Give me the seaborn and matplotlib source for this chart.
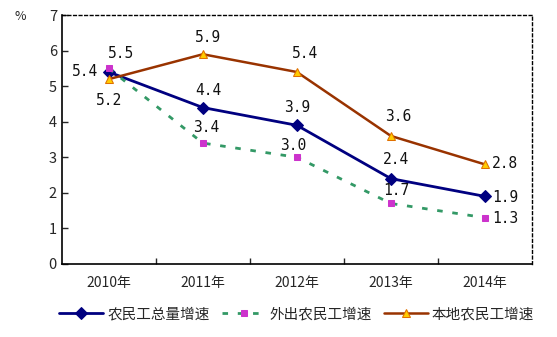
import matplotlib
matplotlib.use("Agg")
import matplotlib.pyplot as plt
import seaborn as sns
import pandas as pd
from matplotlib.ticker import FixedLocator

years = ["2010年", "2011年", "2012年", "2013年", "2014年"]
total = [5.4, 4.4, 3.9, 2.4, 1.9]
outflow = [5.5, 3.4, 3.0, 1.7, 1.3]
local = [5.2, 5.9, 5.4, 3.6, 2.8]
series_names = ["农民工总量增速", "外出农民工增速", "本地农民工增速"]

sns.set_style("white")
plt.rcParams['font.family'] = ['Noto Sans CJK SC', 'DejaVu Sans']

fig = plt.figure(figsize=(5.57, 3.37), dpi=100)
ax = fig.add_axes([0.111, 0.217, 0.844, 0.738])

df = pd.DataFrame({"year": years * 3,
                   "value": total + outflow + local,
                   "series": [series_names[0]] * 5 + [series_names[1]] * 5 + [series_names[2]] * 5})

styles = {
    series_names[0]: dict(color="#000080", marker="D", ms=6, mfc="#000080", mec="#000080", ls="-", lw=2.0),
    series_names[1]: dict(color="#339966", marker="s", ms=4.5, mfc="#CC33CC", mec="#CC33CC", ls=(0, (2, 3.5)), lw=2.0),
    series_names[2]: dict(color="#993300", marker="^", ms=5.5, mfc="#FFCC00", mec="#E07000", ls="-", lw=1.8),
}
for name in series_names:
    st = styles[name]
    sub = df[df.series == name]
    sns.lineplot(data=sub, x="year", y="value", ax=ax, label=name, sort=False,
                 color=st["color"], marker=st["marker"], markersize=st["ms"],
                 markerfacecolor=st["mfc"], markeredgecolor=st["mec"],
                 linestyle=st["ls"], linewidth=st["lw"])

ax.set_xlim(-0.5, 4.5)
ax.set_ylim(0, 7)
ax.set_yticks(range(0, 8))
ax.set_xlabel("")
ax.set_ylabel("")
ax.set_xticks(range(5))
ax.set_xticklabels(years, fontsize=10)
ax.tick_params(axis="x", which="major", length=0, pad=9)
ax.xaxis.set_minor_locator(FixedLocator([0.5, 1.5, 2.5, 3.5]))
ax.tick_params(axis="x", which="minor", length=4, direction="in", width=1, bottom=True)
ax.tick_params(axis="y", length=4, direction="in", width=1, left=True, labelsize=10.5)

for side in ["top", "right"]:
    ax.spines[side].set_linestyle((0, (2, 2)))
    ax.spines[side].set_linewidth(1.0)
    ax.spines[side].set_color("black")
for side in ["left", "bottom"]:
    ax.spines[side].set_linewidth(1.2)
    ax.spines[side].set_color("black")

lab = dict(fontsize=10.5, family="DejaVu Sans Mono", color="#111111",
           textcoords="offset pixels", ha="center", va="center")

def put(val, i, dx, dy):
    ax.annotate(f"{val:.1f}", (i, val), xytext=(dx, dy), **lab)

# total (dy in pixels, positive = up)
put(total[0], 0, -24, 1)
put(total[1], 1, 6, 17)
put(total[2], 2, 0, 18)
put(total[3], 3, 5, 19)
put(total[4], 4, 20, -1)
# outflow
put(outflow[0], 0, 12, 15)
put(outflow[1], 1, 3, 16)
put(outflow[2], 2, -4, 12)
put(outflow[3], 3, 5, 13)
put(outflow[4], 4, 20, -1)
# local
put(local[0], 0, 0, -21)
put(local[1], 1, 5, 17)
put(local[2], 2, 8, 19)
put(local[3], 3, 7, 19)
put(local[4], 4, 20, 1)

fig.text(20 / 557, 1 - 17 / 337, "%", fontsize=9, ha="center", va="center")

ax.legend(loc="upper center", bbox_to_anchor=(0.5, -0.15), ncol=3, frameon=False,
          fontsize=10.5, handlelength=3.0, handletextpad=0.3, columnspacing=0.8,
          borderaxespad=0)

fig.savefig("out.png", dpi=100)
